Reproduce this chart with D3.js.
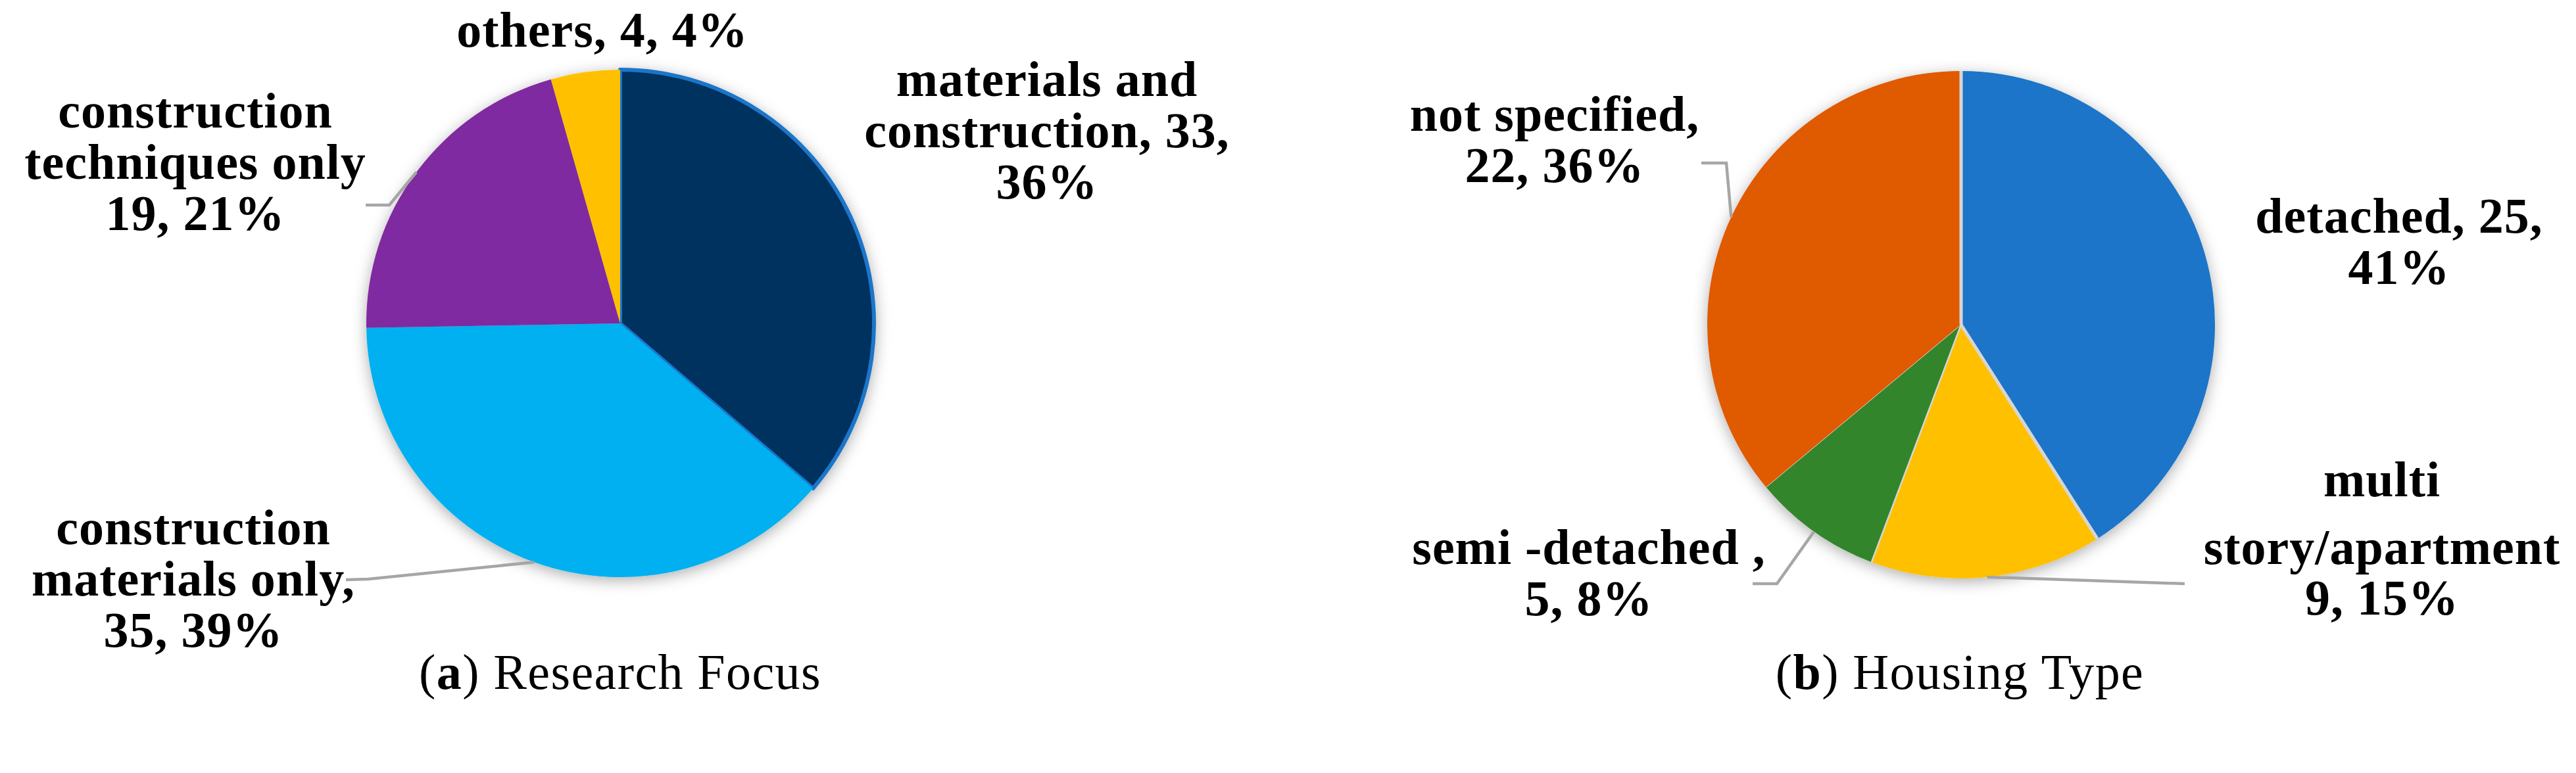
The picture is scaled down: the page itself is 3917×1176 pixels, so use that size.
<!DOCTYPE html>
<html><head><meta charset="utf-8">
<script src="https://cdn.jsdelivr.net/npm/d3@7"></script>
<style>html,body{margin:0;padding:0;background:#fff;} svg{display:block;}</style>
</head><body>
<svg id="chart" width="3917" height="1176"></svg>
<script>
// ---------- data ----------
const leftCategories = ["materials and construction", "construction materials only", "construction techniques only", "others"];
const leftValues = [33, 35, 19, 4];
const leftPercents = [36, 39, 21, 4];
const leftLabelLines = [
  ["materials and", "construction, {v},", "{p}%"],
  ["construction", "materials only,", "{v}, {p}%"],
  ["construction", "techniques only", "{v}, {p}%"],
  ["others, {v}, {p}%"]
];

const rightCategories = ["detached", "multi story/apartment", "semi-detached", "not specified"];
const rightValues = [25, 9, 5, 22];
const rightPercents = [41, 15, 8, 36];
const rightLabelLines = [
  ["detached, {v},", "{p}%"],
  ["multi", "story/apartment", "{v}, {p}%"],
  ["semi -detached ,", "{v}, {p}%"],
  ["not specified,", "{v}, {p}%"]
];

const captionLetters = ["a", "b"];
const captionTitles = ["Research Focus", "Housing Type"];

// ---------- styling / layout ----------
const leftColors = ["#03325f", "#00b0f0", "#7f2ca0", "#ffc000"];
const rightColors = ["#1a74c8", "#ffc000", "#31852c", "#e05a00"];
const R = 386;
const FONT = "'Liberation Serif', 'Times New Roman', serif";
const LINE_H = 78;

const leftLayout = {
  cx: 943, cy: 492, captionX: 943, captionY: 1048,
  labels: [
    {x: 1592, y: 146},
    {x: 294, y: 828, leader: [[560, 881], [526, 882]]},
    {x: 297, y: 194, leader: [[592, 312], [556, 312]]},
    {x: 916, y: 71}
  ],
  sepWidths: null
};
const rightLayout = {
  cx: 2982, cy: 494, captionX: 2980, captionY: 1048,
  labels: [
    {x: 3648, y: 354},
    {x: 3622, y: 755, gaps: [103, 77], leader: [[3322, 888]]},
    {x: 2416, y: 858, leader: [[2702, 888], [2665, 888]]},
    {x: 2364, y: 199, leader: [[2625, 248], [2587, 248]]}
  ],
  sepWidths: [5, 5, 2.5, 1]
};

const svg = d3.select("#chart");
svg.append("rect").attr("width", 3917).attr("height", 1176).attr("fill", "#fff");

const defs = svg.append("defs");
const f = defs.append("filter").attr("id", "shadow")
  .attr("x", "-20%").attr("y", "-20%").attr("width", "140%").attr("height", "140%");
f.append("feDropShadow").attr("dx", 0).attr("dy", 5).attr("stdDeviation", 11)
  .attr("flood-color", "#000").attr("flood-opacity", 0.32);

const pieGen = d3.pie().sort(null).value(d => d.value);
const arcGen = d3.arc().innerRadius(0).outerRadius(R);

function drawPie(categories, values, percents, lines, colors, layout, side) {
  const data = categories.map((c, i) => ({cat: c, value: values[i], pct: percents[i], lines: lines[i], color: colors[i], i}));
  const arcs = pieGen(data);
  const g = svg.append("g").attr("transform", `translate(${layout.cx},${layout.cy})`);
  const pg = g.append("g").attr("filter", "url(#shadow)");

  pg.selectAll("path.slice").data(arcs).join("path")
    .attr("class", "slice")
    .attr("d", arcGen)
    .attr("fill", d => d.data.color)
    .attr("stroke", d => (side === "left" && d.index === 0) ? "#1b75c9" : "none")
    .attr("stroke-width", d => (side === "left" && d.index === 0) ? 6 : 0)
    .attr("stroke-linejoin", "round");

  if (layout.sepWidths) {
    g.selectAll("line.sep").data(arcs).join("line")
      .attr("class", "sep")
      .attr("x1", 0).attr("y1", 0)
      .attr("x2", d => R * Math.sin(d.startAngle))
      .attr("y2", d => -R * Math.cos(d.startAngle))
      .attr("stroke", "#d6d6d6")
      .attr("stroke-width", (d, i) => layout.sepWidths[i]);
  }

  // leader lines
  arcs.forEach((a, i) => {
    const L = layout.labels[i];
    if (!L.leader) return;
    const mid = (a.startAngle + a.endAngle) / 2;
    const start = [layout.cx + R * Math.sin(mid), layout.cy - R * Math.cos(mid)];
    const pts = [start].concat(L.leader);
    svg.append("path")
      .attr("d", d3.line()(pts))
      .attr("fill", "none")
      .attr("stroke", "#a6a6a6")
      .attr("stroke-width", 4.5);
  });

  // labels
  arcs.forEach((a, i) => {
    const L = layout.labels[i];
    const t = svg.append("text")
      .attr("text-anchor", "middle")
      .attr("font-family", FONT)
      .attr("font-weight", "bold")
      .attr("font-size", 76)
      .attr("letter-spacing", 1)
      .attr("fill", "#000");
    let y = L.y;
    a.data.lines.forEach((ln, k) => {
      if (k > 0) y += (L.gaps ? L.gaps[k - 1] : LINE_H);
      const txt = ln.replace("{v}", a.data.value).replace("{p}", a.data.pct);
      t.append("tspan").attr("x", L.x).attr("y", y).text(txt);
    });
  });
}

drawPie(leftCategories, leftValues, leftPercents, leftLabelLines, leftColors, leftLayout, "left");
drawPie(rightCategories, rightValues, rightPercents, rightLabelLines, rightColors, rightLayout, "right");

// captions
[leftLayout, rightLayout].forEach((lay, i) => {
  const t = svg.append("text")
    .attr("x", lay.captionX).attr("y", lay.captionY)
    .attr("text-anchor", "middle")
    .attr("font-family", FONT)
    .attr("font-size", 76)
    .attr("letter-spacing", 1.4)
    .attr("fill", "#000");
  t.append("tspan").text("(");
  t.append("tspan").attr("font-weight", "bold").text(captionLetters[i]);
  t.append("tspan").text(") " + captionTitles[i]);
});
</script>
</body></html>
